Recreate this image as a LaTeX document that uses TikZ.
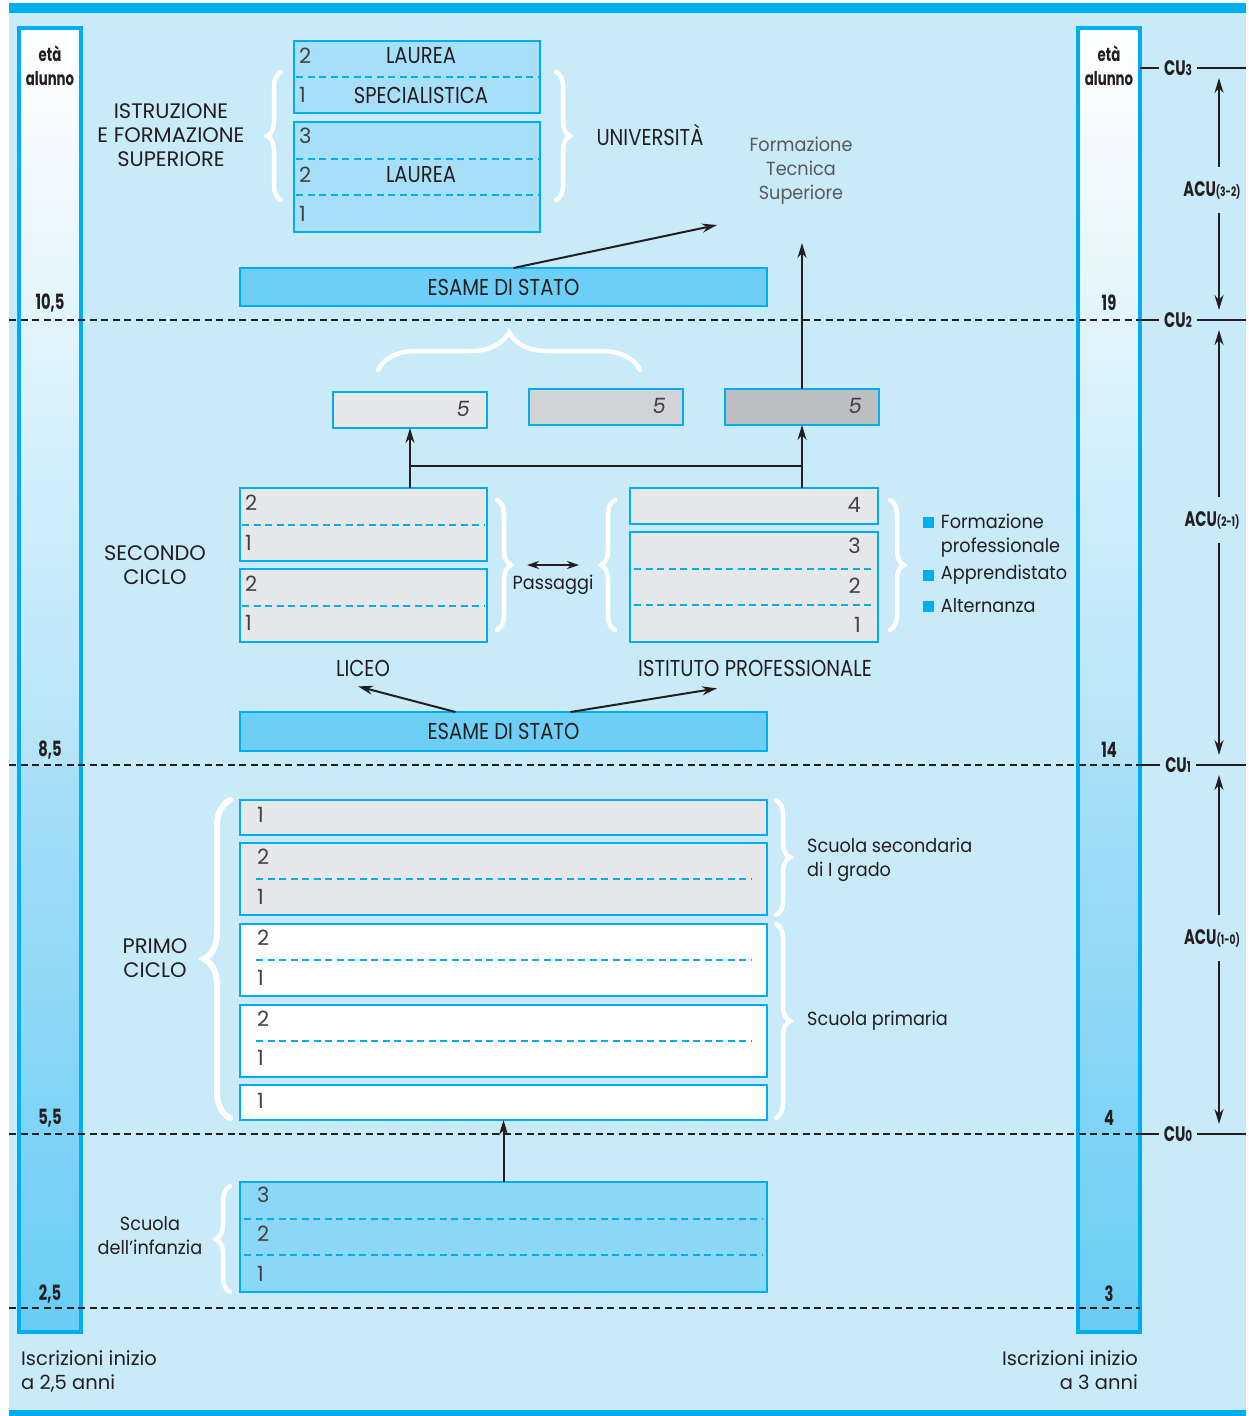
\documentclass[tikz,border=0pt]{standalone}
\usepackage{fontspec}
\setmainfont{Poppins}
\newfontfamily\capsfont[FakeStretch=0.85]{Poppins}
\newfontfamily\plainfont[FakeStretch=0.93]{Poppins}
\newfontfamily\agefont[FakeStretch=0.7]{Poppins}
\usetikzlibrary{arrows.meta,calc,decorations.pathreplacing,positioning}

\definecolor{bgblue}{RGB}{200,234,249}
\definecolor{cyanline}{RGB}{0,174,239}
\definecolor{unifill}{RGB}{168,223,248}
\definecolor{esamefill}{RGB}{109,207,245}
\definecolor{infanziafill}{RGB}{141,215,246}
\definecolor{greyA}{RGB}{230,231,232}
\definecolor{greyB}{RGB}{209,211,212}
\definecolor{greyC}{RGB}{188,190,192}
\definecolor{ink}{RGB}{35,31,32}
\definecolor{numgrey}{RGB}{65,64,66}
\definecolor{ftsgrey}{RGB}{88,89,91}
\definecolor{barmid}{RGB}{180,228,248}
\definecolor{barlow}{RGB}{168,223,247}
\definecolor{bardeep}{RGB}{105,205,245}

\begin{document}
\begin{tikzpicture}[x=1pt, y=-1pt,
        every node/.style={inner sep=0pt, text=ink},
        schoolbox/.style={draw=cyanline, line width=2.5pt, anchor=north west, inner sep=0pt, outer sep=0pt},
        rowline/.style={draw=cyanline, line width=2pt, dash pattern=on 7pt off 4.5pt},
        ageline/.style={draw=ink, line width=1.8pt, dash pattern=on 7pt off 4.5pt},
        culine/.style={draw=ink, line width=1.8pt},
        agebar/.style={draw=cyanline, line width=4pt},
        whitebrace/.style={draw=white, line width=4.5pt, line cap=round, decorate, decoration={brace, amplitude=#1}},
        whitebrace/.default=14pt,
        flow/.style={draw=ink, line width=2pt, -{Stealth[length=15pt, width=9pt]}},
        twoway/.style={draw=ink, line width=2pt, {Stealth[length=12pt, width=8pt]}-{Stealth[length=12pt, width=8pt]}},
        heading/.style={font=\fontsize{21}{24}\selectfont, align=center},
        caps/.style={font=\capsfont\fontsize{23}{24}\selectfont},
        plain/.style={font=\plainfont\fontsize{19}{24}\selectfont},
        note/.style={font=\fontsize{19.5}{24}\selectfont},
        yearnum/.style={font=\fontsize{21}{24}\selectfont, text=numgrey},
        agenum/.style={font=\agefont\bfseries\fontsize{21}{24}\selectfont},
        cutext/.style={font=\agefont\bfseries\fontsize{21}{24}\selectfont, inner xsep=5pt},
        bullet/.style={fill=cyanline, minimum size=11pt}
    ]
    \useasboundingbox (0,0) rectangle (1248,1416);
    \fill[bgblue] (9,3) rectangle (1246,1416);
    \fill[cyanline] (9,3) rectangle (1246,13);
    \fill[cyanline] (9,1410) rectangle (1246,1416);

    \foreach \bx in {19,1078} {
        \shade[top color=white, bottom color=barmid] (\bx,28) rectangle ++(62,737);
        \shade[top color=barlow, bottom color=bardeep] (\bx,765) rectangle ++(62,567);
        \draw[agebar] (\bx,28) rectangle ++(62,1304);
    }
    \foreach \y in {320,765,1134,1308}
        \draw[ageline] (9,\y) -- (1140,\y);

    \node[agenum, align=center, font=\agefont\bfseries\fontsize{19}{24}\selectfont] (etaL) at (50,66) {età\\alunno};
    \node[agenum, align=center, font=\agefont\bfseries\fontsize{19}{24}\selectfont] (etaR) at (1109,66) {età\\alunno};
    \foreach \y/\agel/\ager in {303/{10,5}/19, 750/{8,5}/14, 1118/{5,5}/4, 1294/{2,5}/3} {
        \node[agenum] (ageL\y) at (50,\y) {\agel};
        \node[agenum] (ageR\y) at (1109,\y) {\ager};
    }

    \coordinate (acuaxis) at (1219,0);
    \foreach \y/\k in {68/3, 320/2, 765/1, 1134/0} {
        \node[cutext] (cu\k) at (1178,\y) {CU{\fontsize{15}{15}\selectfont\k}};
        \draw[culine] (1140,\y) -- (cu\k.west);
        \draw[culine] (cu\k.east) -- (1246,\y);
    }
    \foreach \k/\span/\y/\hi/\lo in {32/{3-2}/190/3/2, 21/{2-1}/520/2/1, 10/{1-0}/938/1/0} {
        \node[cutext, inner ysep=14pt] (acu\k) at (1212,\y) {ACU{\fontsize{13}{13}\selectfont(\span)}};
        \draw[flow, shorten >=10pt] (acu\k.north -| acuaxis) -- (cu\hi -| acuaxis);
        \draw[flow, shorten >=10pt] (acu\k.south -| acuaxis) -- (cu\lo -| acuaxis);
    }

    \node[schoolbox, fill=unifill, minimum width=246, minimum height=72] (spec) at (294,41) {};
    \node[schoolbox, fill=unifill, minimum width=246, minimum height=110] (laurea) at (294,122) {};
    \node[schoolbox, fill=esamefill, minimum width=527, minimum height=38, caps] (esameA) at (240,268) {ESAME DI STATO};
    \node[schoolbox, fill=greyA, minimum width=154, minimum height=36] (five1) at (333,392) {};
    \node[schoolbox, fill=greyB, minimum width=154, minimum height=36] (five2) at (529,389) {};
    \node[schoolbox, fill=greyC, minimum width=154, minimum height=36] (five3) at (725,389) {};
    \node[schoolbox, fill=greyA, minimum width=247, minimum height=73] (liceoB) at (240,488) {};
    \node[schoolbox, fill=greyA, minimum width=247, minimum height=73] (liceoA) at (240,569) {};
    \node[schoolbox, fill=greyA, minimum width=248, minimum height=36] (ipB) at (630,488) {};
    \node[schoolbox, fill=greyA, minimum width=248, minimum height=110] (ipA) at (630,532) {};
    \node[schoolbox, fill=esamefill, minimum width=527, minimum height=39, caps] (esameB) at (240,712) {ESAME DI STATO};
    \node[schoolbox, fill=greyA, minimum width=527, minimum height=35] (sec3) at (240,800) {};
    \node[schoolbox, fill=greyA, minimum width=527, minimum height=72] (sec2) at (240,843) {};
    \node[schoolbox, fill=white, minimum width=527, minimum height=72] (prim2) at (240,924) {};
    \node[schoolbox, fill=white, minimum width=527, minimum height=72] (prim1) at (240,1005) {};
    \node[schoolbox, fill=white, minimum width=527, minimum height=35] (prim0) at (240,1085) {};
    \node[schoolbox, fill=infanziafill, minimum width=527, minimum height=110] (infanzia) at (240,1182) {};

    \foreach \bname/\nrows/\gap in {spec/2/2, laurea/3/2, liceoB/2/2, liceoA/2/2, ipA/3/4, sec2/2/16, prim2/2/16, prim1/2/16, infanzia/3/4} {
        \pgfmathtruncatemacro\last{\nrows-1}
        \foreach \k in {1,...,\last}
            \draw[rowline, shorten <=\gap pt, shorten >=\gap pt]
                ($(\bname.north west)!\k/\nrows!(\bname.south west)$) -- ($(\bname.north east)!\k/\nrows!(\bname.south east)$);
    }

    \foreach \t/\x/\y in {2/299/56, 1/299/95, 3/299/136, 2/299/175, 1/299/214,
            2/245/503, 1/245/543, 2/245/584, 1/245/623,
            1/257/815, 2/257/857, 1/257/897, 2/257/938, 1/257/978, 2/257/1019, 1/257/1058, 1/257/1101,
            3/257/1195, 2/257/1234, 1/257/1274}
        \node[yearnum, anchor=west] (yr\x-\y) at (\x,\y) {\t};
    \foreach \t/\y in {4/505, 3/546, 2/586, 1/625}
        \node[yearnum, anchor=east] (ip\y) at (861,\y) {\t};
    \foreach \n/\x/\y in {1/470/409, 2/666/406, 3/862/406}
        \node[yearnum, anchor=east, font=\itshape\fontsize{21}{24}\selectfont] (fiveyr\n) at (\x,\y) {5};

    \node[caps] (laureaA) at (421,56) {LAUREA};
    \node[caps] (specialistica) at (421,95) {SPECIALISTICA};
    \node[caps] (laureaB) at (421,175) {LAUREA};
    \node[heading] (istruzione) at (171,135) {ISTRUZIONE\\E FORMAZIONE\\SUPERIORE};
    \node[caps] (universita) at (650,135) {UNIVERSITÀ};
    \node[plain, align=center, text=ftsgrey] (fts) at (801,171) {Formazione\\Tecnica\\Superiore};
    \node[heading] (secondo) at (155,565) {SECONDO\\CICLO};
    \node[plain] (passaggi) at (553,585) {Passaggi};
    \node[caps] (liceo) at (363,668) {LICEO};
    \node[caps] (istituto) at (755,668) {ISTITUTO PROFESSIONALE};
    \node[heading] (primo) at (155,958) {PRIMO\\CICLO};
    \node[plain, align=left, anchor=west] (secondaria) at (807,860) {Scuola secondaria\\di I grado};
    \node[plain, anchor=west] (primaria) at (807,1021) {Scuola primaria};
    \node[plain, align=center] (infanzialabel) at (150,1236) {Scuola\\dell’infanzia};
    \node[note, align=left, anchor=north west] (iscrL) at (21,1350) {Iscrizioni inizio\\a 2,5 anni};
    \node[note, align=right, anchor=north east] (iscrR) at (1138,1350) {Iscrizioni inizio\\a 3 anni};

    \node[bullet] (bul1) at (928,522) {};
    \node[bullet] (bul2) at (928,575) {};
    \node[bullet] (bul3) at (928,606) {};
    \node[plain, align=left, anchor=north west] (formprof) at ($(bul1.north east)+(7,-2)$) {Formazione\\professionale};
    \node[plain, right=7pt of bul2] (appr) {Apprendistato};
    \node[plain, right=7pt of bul3] (altern) {Alternanza};

    \draw[whitebrace] (281,200) -- (281,72);
    \draw[whitebrace] (556,72) -- (556,200);
    \draw[whitebrace=38pt] (378,370) -- (640,370);
    \draw[whitebrace] (497,500) -- (497,630);
    \draw[whitebrace] (615,630) -- (615,500);
    \draw[whitebrace] (890,500) -- (890,630);
    \draw[whitebrace=26pt, line width=6pt] (230,1118) -- (230,800);
    \draw[whitebrace] (776,800) -- (776,915);
    \draw[whitebrace] (776,924) -- (776,1118);
    \draw[whitebrace] (230,1292) -- (230,1186);

    \coordinate (toUni) at (717,225);
    \coordinate (toFts) at (802,243);
    \coordinate (split) at (0,466);
    \draw[flow] ($(esameA.north)+(10,0)$) -- (toUni);
    \draw[flow] (five3.north) -- (toFts);
    \draw[flow] (liceoB.north -| five1.south) -- (five1.south);
    \draw[flow] (ipB.north -| five3.south) -- (five3.south);
    \draw[line width=2pt, draw=ink] (five1.south |- split) -- (five3.south |- split);
    \draw[twoway] ($(passaggi.north)+(-26,-10)$) -- ($(passaggi.north)+(26,-10)$);
    \draw[flow] ($(esameB.north)+(-48,0)$) -- ($(liceo.south)+(-5,10)$);
    \draw[flow] ($(esameB.north)+(67,0)$) -- ($(istituto.south)+(-38,12)$);
    \draw[flow] (infanzia.north) -- (prim0.south);
\end{tikzpicture}
\end{document}
